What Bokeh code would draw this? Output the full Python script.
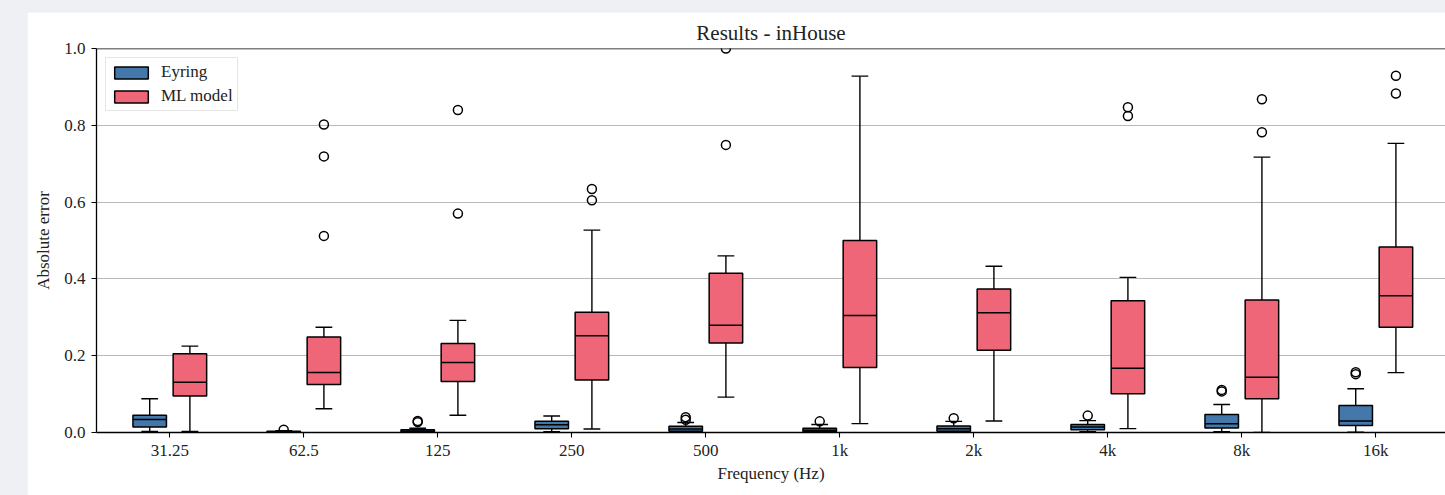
from bokeh.plotting import figure
from bokeh.models import (ColumnDataSource, Range1d, FixedTicker, Span, Legend, LegendItem,
                          NumeralTickFormatter, GlobalInlineStyleSheet)
from bokeh.embed import file_html
from bokeh.resources import INLINE

# ---------------- data ----------------
freqs = ["31.25", "62.5", "125", "250", "500", "1k", "2k", "4k", "8k", "16k"]

eyring_lo  = [0.003, 0.000, 0.000, 0.002, 0.000, 0.000, 0.000, 0.002, 0.002, 0.001]
eyring_q1  = [0.014, 0.001, 0.002, 0.010, 0.003, 0.002, 0.003, 0.007, 0.012, 0.018]
eyring_med = [0.034, 0.002, 0.004, 0.020, 0.009, 0.006, 0.010, 0.014, 0.023, 0.030]
eyring_q3  = [0.045, 0.003, 0.007, 0.029, 0.016, 0.011, 0.017, 0.021, 0.047, 0.070]
eyring_hi  = [0.088, 0.005, 0.011, 0.043, 0.026, 0.021, 0.029, 0.031, 0.073, 0.114]
eyring_fliers = [[], [0.007], [0.027, 0.030], [], [0.033, 0.040], [0.029], [0.037],
                 [0.044], [0.107, 0.111], [0.152, 0.157]]

ml_lo  = [0.003, 0.062, 0.045, 0.009, 0.092, 0.023, 0.030, 0.010, 0.000, 0.156]
ml_q1  = [0.095, 0.125, 0.133, 0.137, 0.233, 0.169, 0.214, 0.101, 0.088, 0.274]
ml_med = [0.131, 0.156, 0.182, 0.252, 0.279, 0.305, 0.312, 0.167, 0.144, 0.356]
ml_q3  = [0.205, 0.249, 0.232, 0.313, 0.415, 0.500, 0.374, 0.343, 0.345, 0.483]
ml_hi  = [0.225, 0.274, 0.292, 0.527, 0.460, 0.928, 0.433, 0.404, 0.717, 0.753]
ml_fliers = [[], [0.512, 0.719, 0.802], [0.570, 0.840], [0.605, 0.634], [0.749, 1.0],
             [], [], [0.824, 0.847], [0.782, 0.868], [0.883, 0.929]]

series_names = ["Eyring", "ML model"]
series_colors = ["#4477AA", "#EE6677"]

# ---------------- figure ----------------
FONT = "Liberation Serif"
p = figure(width=1418, height=483, output_backend="svg", toolbar_location=None,
           x_range=Range1d(-0.547, 9.52), y_range=Range1d(0, 1),
           min_border_left=69, min_border_right=0, min_border_top=36, min_border_bottom=63,
           title="Results - inHouse")
p.margin = (12, 0, 0, 27)
p.stylesheets = [GlobalInlineStyleSheet(css="html, body { background: #eef0f4; overflow: hidden; }")]
p.background_fill_color = "white"
p.border_fill_color = "white"
p.outline_line_color = None

p.title.align = "center"
p.title.text_font = FONT
p.title.text_font_size = "21px"
p.title.text_font_style = "normal"
p.title.text_color = "#222222"
p.title.standoff = 7

BOX_W = 0.25
CAP_W = 0.125
offsets = [-0.15, 0.15]
all_stats = [
    (eyring_lo, eyring_q1, eyring_med, eyring_q3, eyring_hi, eyring_fliers),
    (ml_lo, ml_q1, ml_med, ml_q3, ml_hi, ml_fliers),
]

legend_items = []
for (lo, q1, med, q3, hi, fl), off, color, name in zip(all_stats, offsets, series_colors, series_names):
    xs = [i + off for i in range(len(freqs))]
    src = ColumnDataSource(dict(
        x=xs, lo=lo, q1=q1, med=med, q3=q3, hi=hi,
        left=[x - BOX_W / 2 for x in xs], right=[x + BOX_W / 2 for x in xs],
        cl=[x - CAP_W / 2 for x in xs], cr=[x + CAP_W / 2 for x in xs],
    ))
    # whiskers
    p.segment(x0="x", y0="q3", x1="x", y1="hi", source=src, line_color="black", line_width=1.4)
    p.segment(x0="x", y0="lo", x1="x", y1="q1", source=src, line_color="black", line_width=1.4)
    # caps
    p.segment(x0="cl", y0="hi", x1="cr", y1="hi", source=src, line_color="black", line_width=1.4)
    p.segment(x0="cl", y0="lo", x1="cr", y1="lo", source=src, line_color="black", line_width=1.4)
    # boxes
    box = p.quad(left="left", right="right", bottom="q1", top="q3", source=src,
                 fill_color=color, line_color="black", line_width=1.5)
    # medians
    p.segment(x0="left", y0="med", x1="right", y1="med", source=src, line_color="black", line_width=1.5)
    # fliers
    fx, fy = [], []
    for i, vals in enumerate(fl):
        for v in vals:
            fx.append(i + off)
            fy.append(v)
    p.scatter(fx, fy, marker="circle", size=9, fill_color=None, line_color="black", line_width=1.5)
    legend_items.append(LegendItem(label=name, renderers=[box]))

# top spine
p.add_layout(Span(location=1, dimension="width", line_color="black", line_width=1.3))

# axes
p.xaxis.ticker = FixedTicker(ticks=list(range(len(freqs))))
p.xaxis.major_label_overrides = {i: f for i, f in enumerate(freqs)}
p.yaxis.ticker = FixedTicker(ticks=[0.0, 0.2, 0.4, 0.6, 0.8, 1.0])
p.yaxis.formatter = NumeralTickFormatter(format="0.0")
p.xaxis.axis_label = "Frequency (Hz)"
p.yaxis.axis_label = "Absolute error"
for ax in (p.xaxis, p.yaxis):
    ax.axis_line_color = "black"
    ax.axis_line_width = 1.3
    ax.major_tick_line_color = "black"
    ax.major_tick_line_width = 1.1
    ax.major_tick_out = 5
    ax.major_tick_in = 0
    ax.minor_tick_line_color = None
    ax.major_label_text_font = FONT
    ax.major_label_text_font_size = "17px"
    ax.major_label_text_color = "#222222"
    ax.axis_label_text_font = FONT
    ax.axis_label_text_font_size = "17px"
    ax.axis_label_text_font_style = "normal"
    ax.axis_label_text_color = "#222222"
p.xaxis.major_label_standoff = 3
p.yaxis.major_label_standoff = 6
p.xaxis.axis_label_standoff = 1
p.yaxis.axis_label_standoff = 8

p.xgrid.grid_line_color = None
p.ygrid.grid_line_color = "#b8b8b8"
p.ygrid.grid_line_width = 1

legend = Legend(items=legend_items, location="top_left")
legend.margin = 9
legend.padding = 4
legend.spacing = 4
legend.glyph_width = 42
legend.glyph_height = 15
legend.label_standoff = 9
legend.label_text_font = FONT
legend.label_text_font_size = "17px"
legend.label_text_color = "#222222"
legend.border_line_color = "#cccccc"
legend.border_line_width = 1
legend.background_fill_color = "white"
legend.background_fill_alpha = 0.8
p.add_layout(legend)

open("out.html", "w").write(file_html(p, INLINE))
